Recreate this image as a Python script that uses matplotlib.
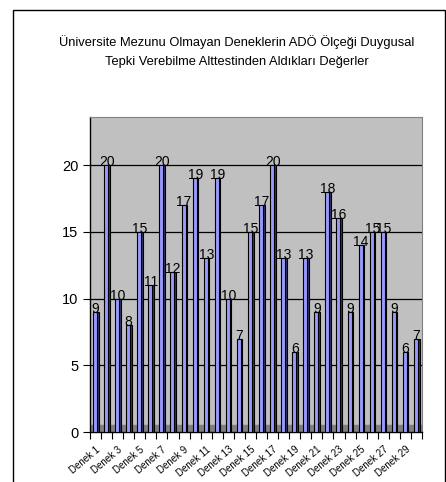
import numpy as np
import matplotlib.pyplot as plt
from matplotlib.patches import Rectangle

plt.rcParams['font.family'] = ['Liberation Sans', 'DejaVu Sans']

# data
subjects = [f"Denek {i}" for i in range(1, 31)]
scores = [9, 20, 10, 8, 15, 11, 20, 12, 17, 19, 13, 19, 10, 7, 15,
          17, 20, 13, 6, 13, 9, 18, 16, 9, 14, 15, 15, 9, 6, 7]
yticks = [0, 5, 10, 15, 20]
title = ("Üniversite Mezunu Olmayan Deneklerin ADÖ Ölçeği Duygusal\n"
         "Tepki Verebilme Alttestinden Aldıkları Değerler")

fig = plt.figure(figsize=(4.46, 4.82), dpi=100)

# outer chart frame
fig.patches.append(Rectangle((13 / 446, -0.05), 432 / 446, 1.05 - 10 / 482,
                             transform=fig.transFigure, fill=False,
                             edgecolor='black', linewidth=1.0))

fig.text(0.53, 1 - 35 / 482, title, ha='center', va='top', fontsize=9.3,
         linespacing=1.75)

ax = fig.add_axes([90 / 446, 50 / 482, 332 / 446, 315 / 482])
ax.set_facecolor('#c0c0c0')

x = np.arange(len(scores))
w = 0.36
# dark side of the 3D bars
ax.bar(x + 0.1, scores, width=w, color='#333366', edgecolor='black',
       linewidth=0.8, zorder=2)
ax.bar(x - 0.05, scores, width=w, color='#9999ff', edgecolor='black',
       linewidth=0.8, zorder=3)

for xi, v in zip(x, scores):
    ax.text(xi, v - 0.3, str(v), ha='center', va='bottom', fontsize=10,
            zorder=4)

ax.set_xlim(-0.5, len(scores) - 0.5)
ax.set_ylim(0, 23.6)
ax.set_yticks(yticks)
ax.set_yticklabels([str(t) for t in yticks], fontsize=10.5)
ax.yaxis.grid(True, color='black', linewidth=0.9)
ax.set_axisbelow(True)

ax.set_xticks(np.arange(-0.5, len(scores), 1.0))
ax.set_xticklabels([])
ax.set_xticks(x[::2], minor=True)
ax.set_xticklabels(subjects[::2], minor=True, rotation=40, ha='right',
                   fontsize=7, rotation_mode='anchor')
ax.tick_params(axis='x', which='minor', length=0, pad=9)
ax.tick_params(axis='x', which='major', length=5, direction='out')
ax.tick_params(axis='y', length=5, direction='out')

# floor and wall shading
ax.axhspan(0, 0.5, color='#808080', zorder=1)
for s in ['top', 'right']:
    ax.spines[s].set_color('#808080')
ax.spines['left'].set_linewidth(1.0)
ax.spines['bottom'].set_linewidth(1.0)

fig.savefig('out.png', dpi=100)
